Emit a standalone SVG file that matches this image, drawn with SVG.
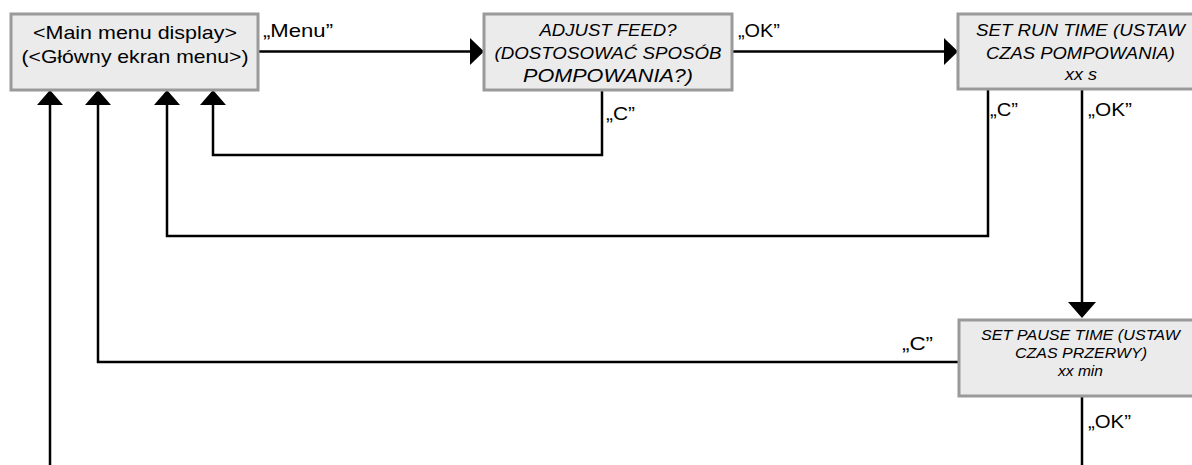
<svg xmlns="http://www.w3.org/2000/svg" width="1192" height="465" viewBox="0 0 1192 465">
<style>
.box{fill:#ebebeb;stroke:#9a9a9a;stroke-width:3}
.t{font-family:"Liberation Sans",Arial,sans-serif;fill:#000}
.big{font-size:19px}
.it{font-size:17px;font-style:italic}
.itb{font-size:19px;font-style:italic}
.sm{font-size:14.5px;font-style:italic}
.lbl{font-family:"Liberation Sans",Arial,sans-serif;font-size:18.5px;fill:#000}
.ln{fill:none;stroke:#000;stroke-width:2.5}
.ah{fill:#000}
</style>
<rect width="1192" height="465" fill="#fff"/>
<g id="connectors">
<path class="ln" d="M258 51.5H471"/>
<polygon class="ah" points="470,38 484,51.5 470,65"/>
<path class="ln" d="M733 51.5H945"/>
<polygon class="ah" points="944,38 958,51.5 944,65"/>
<path class="ln" d="M602 90V155H213V104"/>
<polygon class="ah" points="200,105 213,90 226,105"/>
<path class="ln" d="M988 89V236H167V104"/>
<polygon class="ah" points="154,105 167,90 180,105"/>
<path class="ln" d="M1082 89V303"/>
<polygon class="ah" points="1068,302 1082,318 1096,302"/>
<path class="ln" d="M959 362H98V104"/>
<polygon class="ah" points="85,105 98,90 111,105"/>
<path class="ln" d="M1082 396V465"/>
<path class="ln" d="M50 465V104"/>
<polygon class="ah" points="37,105 50,90 63,105"/>
<text class="lbl" x="263" y="37" textLength="70" lengthAdjust="spacingAndGlyphs">„Menu”</text>
<text class="lbl" x="738" y="37" textLength="42" lengthAdjust="spacingAndGlyphs">„OK”</text>
<text class="lbl" x="606" y="120" textLength="29" lengthAdjust="spacingAndGlyphs">„C”</text>
<text class="lbl" x="990" y="116" textLength="28" lengthAdjust="spacingAndGlyphs">„C”</text>
<text class="lbl" x="1088" y="116" textLength="44" lengthAdjust="spacingAndGlyphs">„OK”</text>
<text class="lbl" x="902" y="350" textLength="31" lengthAdjust="spacingAndGlyphs">„C”</text>
<text class="lbl" x="1088" y="428" textLength="43" lengthAdjust="spacingAndGlyphs">„OK”</text>
</g>
<g id="main-menu">
<rect class="box" x="11" y="14" width="247" height="76"/>
<text class="t big" x="135" y="39" text-anchor="middle" textLength="204" lengthAdjust="spacingAndGlyphs">&lt;Main menu display&gt;</text>
<text class="t big" x="135" y="63" text-anchor="middle" textLength="227" lengthAdjust="spacingAndGlyphs">(&lt;Główny ekran menu&gt;)</text>
</g>
<g id="adjust-feed">
<rect class="box" x="484" y="14" width="248" height="76"/>
<text class="t it" x="608" y="36" text-anchor="middle" textLength="137" lengthAdjust="spacingAndGlyphs">ADJUST FEED?</text>
<text class="t it" x="608" y="59" text-anchor="middle" textLength="227" lengthAdjust="spacingAndGlyphs">(DOSTOSOWAĆ SPOSÓB</text>
<text class="t itb" x="608" y="82" text-anchor="middle" textLength="170" lengthAdjust="spacingAndGlyphs">POMPOWANIA?)</text>
</g>
<g id="set-run-time">
<rect class="box" x="958" y="14" width="260" height="75"/>
<text class="t it" x="1080.5" y="36" text-anchor="middle" textLength="209" lengthAdjust="spacingAndGlyphs">SET RUN TIME (USTAW</text>
<text class="t it" x="1080.5" y="59" text-anchor="middle" textLength="189" lengthAdjust="spacingAndGlyphs">CZAS POMPOWANIA)</text>
<text class="t it" x="1081" y="80" text-anchor="middle" textLength="32" lengthAdjust="spacingAndGlyphs">xx s</text>
</g>
<g id="set-pause-time">
<rect class="box" x="959" y="320" width="260" height="76"/>
<text class="t sm" x="1080.5" y="340" text-anchor="middle" textLength="199" lengthAdjust="spacingAndGlyphs">SET PAUSE TIME (USTAW</text>
<text class="t sm" x="1081" y="358" text-anchor="middle" textLength="132" lengthAdjust="spacingAndGlyphs">CZAS PRZERWY)</text>
<text class="t sm" x="1080.5" y="376" text-anchor="middle" textLength="45" lengthAdjust="spacingAndGlyphs">xx min</text>
</g>
</svg>
